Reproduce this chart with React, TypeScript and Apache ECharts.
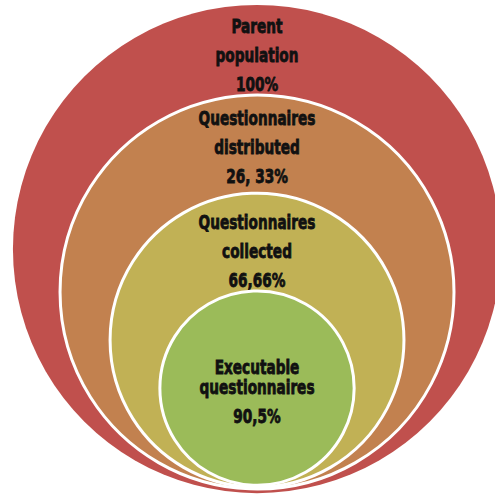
import React, { useEffect, useRef } from "react";
import * as echarts from "echarts";

// Stages of the survey, outermost first
const stageNames = ["Parent\npopulation", "Questionnaires\ndistributed", "Questionnaires\ncollected", "Executable\nquestionnaires"];
const stageShares = ["100%", "26, 33%", "66,66%", "90,5%"];
const stageColors = ["#C0504D", "#C2814F", "#C1B155", "#9BBB59"];

// Diagram geometry in chart units (outer circle radius = 100)
const circleRadius = [100, 80.7, 60.2, 39.8];
const circleCenterY = [0, -17.6, -37.3, -57.0];
const labelCenterY = [79.3, 41.6, -0.8, -60.2];

export default function App() {
  const ref = useRef<HTMLDivElement>(null);
  useEffect(() => {
    if (!ref.current) return;
    const chart = echarts.init(ref.current, null, { renderer: "svg" });
    const data = stageNames.map((n, i) => [0, circleCenterY[i], circleRadius[i], labelCenterY[i], i]);
    const font = "'Liberation Sans Narrow', 'DejaVu Sans Condensed', 'Roboto Condensed', sans-serif";
    chart.setOption({
      animation: false,
      backgroundColor: "#ffffff",
      grid: { left: 0, right: 0, top: 0, bottom: 0 },
      xAxis: { type: "value", min: -105.3, max: 97.5, show: false },
      yAxis: { type: "value", min: -101.6, max: 102.1, show: false },
      series: [
        {
          type: "custom",
          coordinateSystem: "cartesian2d",
          data,
          renderItem: (params: any, api: any) => {
            const i = api.value(4);
            const c = api.coord([api.value(0), api.value(1)]);
            const r = api.size([api.value(2), 0])[0];
            const lc = api.coord([api.value(0), api.value(3)]);
            const isLast = i === stageNames.length - 1;
            const text = isLast
              ? stageNames[i] + "\n{v|" + stageShares[i] + "}"
              : stageNames[i] + "\n" + stageShares[i];
            return {
              type: "group",
              children: [
                {
                  type: "circle",
                  shape: { cx: c[0], cy: c[1], r },
                  style: {
                    fill: stageColors[i],
                    stroke: i === 0 ? "none" : "#ffffff",
                    lineWidth: 3,
                  },
                },
                {
                  type: "text",
                  x: lc[0],
                  y: lc[1],
                  scaleX: 0.76,
                  style: {
                    text,
                    fill: "#111111",
                    stroke: "#111111",
                    lineWidth: 0.8,
                    fontFamily: font,
                    fontSize: 20,
                    fontWeight: "bold",
                    align: "center",
                    verticalAlign: "middle",
                    lineHeight: isLast ? 20 : 29,
                    rich: isLast
                      ? { v: { fontFamily: font, fontSize: 20, fontWeight: "bold", lineHeight: 38, fill: "#111111" } }
                      : undefined,
                  },
                },
              ],
            };
          },
        },
      ],
    });
    return () => chart.dispose();
  }, []);
  return <div ref={ref} style={{ position: "fixed", left: 0, top: 0, width: 495, height: 497 }} />;
}
